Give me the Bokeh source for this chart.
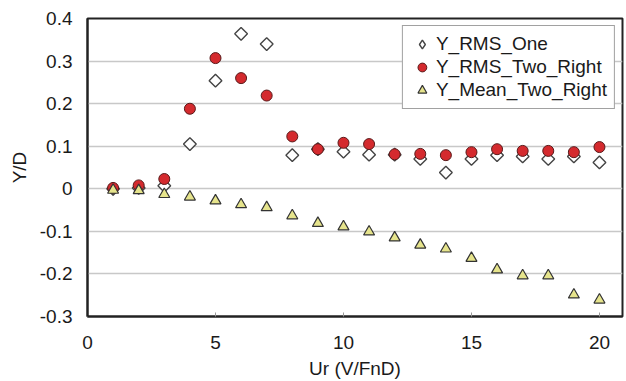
import math
from bokeh.plotting import figure
from bokeh.models import Range1d, FixedTicker, Legend, LegendItem
from bokeh.embed import file_html
from bokeh.resources import INLINE

ur = list(range(1, 21))
y_rms_one = [0.0, 0.002, 0.007, 0.105, 0.254, 0.364, 0.340, 0.079, 0.093, 0.087,
             0.080, 0.080, 0.070, 0.038, 0.070, 0.079, 0.076, 0.070, 0.076, 0.062]
y_rms_two_right = [0.002, 0.008, 0.023, 0.188, 0.307, 0.260, 0.219, 0.123, 0.093, 0.108,
                   0.105, 0.081, 0.082, 0.079, 0.086, 0.093, 0.089, 0.089, 0.086, 0.098]
y_mean_two_right = [-0.003, -0.004, -0.013, -0.019, -0.028, -0.037, -0.044, -0.063, -0.081, -0.089,
                    -0.101, -0.115, -0.132, -0.141, -0.163, -0.190, -0.204, -0.204, -0.249, -0.261]
x_ticks = [0, 5, 10, 15, 20]
y_ticks = [-0.3, -0.2, -0.1, 0, 0.1, 0.2, 0.3, 0.4]
series_names = ["Y_RMS_One", "Y_RMS_Two_Right", "Y_Mean_Two_Right"]

FONT = "Liberation Sans"

p = figure(width=626, height=381, output_backend="svg", toolbar_location=None,
           x_range=Range1d(0, 20.9), y_range=Range1d(-0.3, 0.4),
           min_border_left=87, min_border_right=4, min_border_top=18, min_border_bottom=63)
p.background_fill_color = "white"
p.border_fill_color = "white"
p.outline_line_color = "#222222"
p.outline_line_width = 2

p.xgrid.visible = False
p.ygrid.grid_line_color = "#c8c8c8"
p.ygrid.grid_line_width = 1.5
p.ygrid.ticker = FixedTicker(ticks=y_ticks)

p.xaxis.ticker = FixedTicker(ticks=x_ticks)
p.yaxis.ticker = FixedTicker(ticks=y_ticks)
p.yaxis.major_label_overrides = {v: ("0" if v == 0 else f"{v:g}") for v in y_ticks}

for ax in (p.xaxis[0], p.yaxis[0]):
    ax.axis_line_color = "#222222"
    ax.axis_line_width = 2
    ax.major_tick_in = 0
    ax.major_tick_out = 0
    ax.minor_tick_in = 0
    ax.minor_tick_out = 0
    ax.major_label_text_font = FONT
    ax.major_label_text_font_size = "19px"
    ax.major_label_text_color = "#1a1a1a"
    ax.axis_label_text_font = FONT
    ax.axis_label_text_font_size = "19px"
    ax.axis_label_text_font_style = "normal"
    ax.axis_label_text_color = "#1a1a1a"

p.xaxis.major_tick_in = 4
p.xaxis.major_tick_line_color = "#999999"
p.xaxis.major_label_standoff = 19
p.yaxis.major_label_standoff = 15
p.xaxis.axis_label = "Ur (V/FnD)"
p.yaxis.axis_label = "Y/D"
p.xaxis.axis_label_standoff = 6
p.yaxis.axis_label_standoff = 7

# legend icon renderer for the diamond series (drawn underneath the first point)
r1_icon = p.scatter(ur[:1], y_rms_one[:1], marker="diamond", size=12, fill_color="white",
                    line_color="#444444", line_width=1.4)
r1 = p.scatter(ur, y_rms_one, marker="square", angle=math.pi / 4, size=9, fill_color="white",
               line_color="#444444", line_width=1.4)
r2 = p.scatter(ur, y_rms_two_right, marker="circle", size=11, fill_color="#d42a2e",
               line_color="#5a1a1a", line_width=1)
r3 = p.scatter(ur, y_mean_two_right, marker="triangle", size=11, fill_color="#e6e48c",
               line_color="#333333", line_width=1.2)

legend = Legend(items=[LegendItem(label=series_names[0], renderers=[r1_icon]),
                       LegendItem(label=series_names[1], renderers=[r2]),
                       LegendItem(label=series_names[2], renderers=[r3])],
                location="top_right")
legend.margin = 7
legend.padding = 7
legend.spacing = 1
legend.glyph_width = 24
legend.glyph_height = 22
legend.label_height = 22
legend.label_standoff = 2
legend.label_text_font = FONT
legend.label_text_font_size = "19px"
legend.label_text_color = "#1a1a1a"
legend.border_line_color = "#444444"
legend.border_line_width = 1.5
legend.background_fill_alpha = 1
p.add_layout(legend)

open("out.html", "w").write(file_html(p, INLINE))
